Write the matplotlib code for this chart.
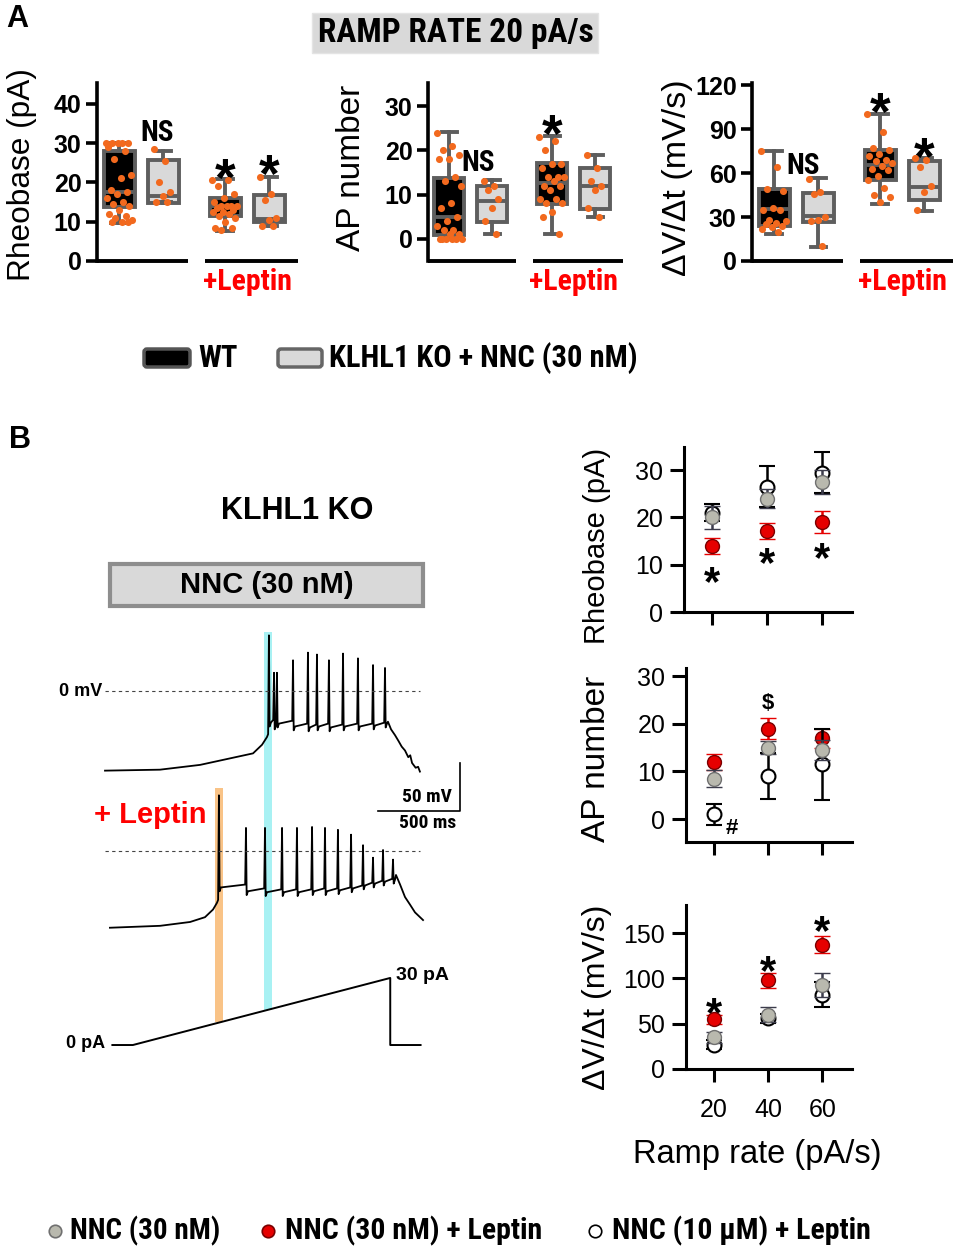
import matplotlib
matplotlib.use("Agg")
import matplotlib.pyplot as plt
import numpy as np
from matplotlib import font_manager
from matplotlib.font_manager import FontProperties
from matplotlib.patches import FancyBboxPatch, Rectangle
from matplotlib.transforms import offset_copy

# ---------------------------------------------------------------- fonts
plt.rcParams["font.family"] = ["Liberation Sans", "DejaVu Sans"]


def _find_condensed_bold():
    best = None
    for f in font_manager.fontManager.ttflist:
        name = f.name
        st = str(f.stretch)
        is_cond = ("Narrow" in name or "Condensed" in name
                   or st in ("condensed", "semi-condensed", "extra-condensed", "ultra-condensed"))
        w = f.weight if isinstance(f.weight, int) else (700 if "bold" in str(f.weight) else 400)
        if not is_cond or w < 600 or "Italic" in f.fname or f.style != "normal":
            continue
        rank = 0 if "Liberation Sans Narrow" in name else (1 if "Roboto" in name else 2)
        if best is None or rank < best[0]:
            best = (rank, f.fname)
    return best[1] if best else None


_COND = _find_condensed_bold()
_SCALE = 1.0 if _COND else 0.83


def nfont(size):
    """Condensed bold face (Arial-Narrow look) when available, else scaled Liberation bold."""
    if _COND:
        return FontProperties(fname=_COND, size=size)
    return FontProperties(family="Liberation Sans", weight="bold", size=size * _SCALE)


# ---------------------------------------------------------------- panel A data (box stats + points)
rheo_q1 = [13.8, 14.8, 11.4, 9.8]
rheo_med = [17.6, 16.5, 14.0, 10.6]
rheo_q3 = [28.1, 25.6, 16.1, 16.7]
rheo_lo = [9.7, 15.0, 7.6, 9.0]
rheo_hi = [30.0, 28.1, 20.8, 21.4]
rheo_pts = [
    [30, 30, 30, 30, 30, 29, 28, 26, 22, 21, 18, 17.5, 17, 16, 15, 14.5, 14, 13, 12, 11.5, 11, 10.5, 10, 10, 10],
    [28.5, 25.5, 20, 17.5, 16.5, 15, 15],
    [20.5, 20.5, 19, 17, 16, 15, 14, 14, 14, 14, 13.5, 13, 12.5, 12.5, 12, 11.5, 11, 10, 8.5, 8.5, 8],
    [21.5, 17, 15.5, 11, 10.5, 9, 9],
]

ap_q1 = [0.8, 3.8, 7.9, 6.7]
ap_med = [5.0, 8.5, 12.6, 12.0]
ap_q3 = [13.8, 12.0, 17.2, 15.9]
ap_lo = [0.0, 1.0, 1.0, 5.0]
ap_hi = [24.2, 13.2, 23.2, 19.0]
ap_pts = [
    [24, 21, 20, 19, 18, 18, 14, 13, 12, 8, 7, 5, 4, 3, 2, 2, 1, 1, 0, 0, 0, 0, 0, 0],
    [13, 12, 11, 9, 7, 4, 1],
    [23, 22, 20, 17, 17, 16, 14, 14, 14, 13, 12, 12, 11, 9, 9, 8, 8, 6, 5, 1],
    [19, 16, 13, 12, 11, 7, 5],
]

dv_q1 = [24.0, 26.6, 55.3, 41.8]
dv_med = [35.7, 30.7, 65.7, 50.3]
dv_q3 = [49.0, 46.5, 75.6, 68.4]
dv_lo = [18.7, 9.7, 39.0, 34.0]
dv_hi = [75.0, 56.7, 100.0, 70.0]
dv_pts = [
    [75, 64, 49, 48, 36, 35, 35, 28, 27, 26, 25, 24, 23, 22, 20],
    [56, 47, 46, 30, 28, 27, 10],
    [100, 88, 77, 76, 73, 72, 69, 68, 67, 65, 63, 62, 58, 55, 50, 45, 44, 40],
    [70, 69, 64, 51, 47, 35],
]

# ---------------------------------------------------------------- panel B traces (ms, mV / pA)
tr1_base_t = [0, 335, 580, 903, 958, 988]
tr1_base_v = [-83, -82, -77, -65, -56, -48]
tr1_spk_t = [1000, 1031, 1049, 1147, 1238, 1293, 1366, 1452, 1543, 1635, 1708]
tr1_spk_v = [58, 19, 19, 32, 40, 38, 32, 39, 34, 27, 24]
tr1_trough_v = [-33, -36, -34, -37, -38, -37, -38, -37, -37, -36, -34]
tr1_tail_t = [1726, 1745, 1769, 1790, 1810, 1830, 1850, 1862, 1873, 1895, 1910, 1921]
tr1_tail_v = [-32, -40, -46, -52, -58, -62, -69, -67, -75, -80, -79, -84]

tr2_base_t = [30, 336, 519, 610, 659, 683]
tr2_base_v = [-80, -78, -74, -69, -61, -54]
tr2_spk_t = [695, 860, 976, 1080, 1171, 1263, 1342, 1421, 1501, 1574, 1635, 1696, 1757]
tr2_spk_v = [58, 24, 24, 24, 24, 25, 24, 22, 17, 6, -7, 1, -9]
tr2_trough_v = [-38, -42, -43, -43, -43, -42, -42, -41, -39, -36, -34, -32, -30]
tr2_tail_t = [1775, 1800, 1830, 1861, 1891, 1940]
tr2_tail_v = [-25, -35, -48, -56, -64, -72]

ramp_t = [45, 170, 1740, 1740, 1925]
ramp_i = [0, 0, 30, 0, 0]

# ---------------------------------------------------------------- panel B summary (mean, sem)
ramp_rates = [20, 40, 60]
rheo_nnc = [20, 24, 27.5]
rheo_nnc_sem = [2.5, 2.0, 2.5]
rheo_lep = [14, 17.2, 19]
rheo_lep_sem = [1.7, 1.7, 2.3]
rheo_nnc10 = [21, 26.5, 29.5]
rheo_nnc10_sem = [1.8, 4.3, 4.3]

ap_nnc = [8.5, 15, 14.5]
ap_nnc_sem = [1.8, 1.3, 2.2]
ap_lep = [12, 19, 17]
ap_lep_sem = [1.7, 2.2, 2.0]
ap_nnc10 = [1, 9, 11.5]
ap_nnc10_sem = [2.2, 4.8, 7.5]

dvdt_nnc = [35, 60, 93]
dvdt_nnc_sem = [6, 8.5, 13]
dvdt_lep = [55, 98, 137]
dvdt_lep_sem = [5, 8.5, 9.5]
dvdt_nnc10 = [27, 56, 82]
dvdt_nnc10_sem = [4.5, 5, 14]

# ---------------------------------------------------------------- layout helpers
W, H = 956, 1252
fig = plt.figure(figsize=(W / 100, H / 100), dpi=100)


def px_axes(x0, y0, x1, y1):
    return fig.add_axes([x0 / W, 1 - y1 / H, (x1 - x0) / W, (y1 - y0) / H])


def star(ax, x, y, size, color="black"):
    tr = offset_copy(ax.transData, fig=fig, y=-0.56 * size, units="points")
    ax.text(x, y, "*", ha="center", va="baseline", fontsize=size, color=color,
            fontweight="bold", transform=tr, clip_on=False)


BOX_POS = [1.0, 2.0, 3.4, 4.4]
ORANGE = "#f2691e"
EDGE = "#5e5e5e"


def box_panel(rect, q1, med, q3, lo, hi, pts, ylim, yticks):
    ax = px_axes(*rect)
    stats = [dict(q1=a, med=m, q3=b, whislo=l, whishi=h)
             for a, m, b, l, h in zip(q1, med, q3, lo, hi)]
    bp = ax.bxp(stats, positions=BOX_POS, widths=0.7, capwidths=0.35,
                patch_artist=True, showfliers=False, manage_ticks=False)
    for i, patch in enumerate(bp["boxes"]):
        patch.set_facecolor("black" if i % 2 == 0 else "#d9d9d9")
        patch.set_edgecolor(EDGE)
        patch.set_linewidth(2.8)
    for part in ("whiskers", "caps", "medians"):
        for ln in bp[part]:
            ln.set_color(EDGE)
            ln.set_linewidth(2.8)
    for p, vals in zip(BOX_POS, pts):
        n = len(vals)
        offs = (((np.arange(n) * 0.618034) % 1.0) - 0.5) * (0.6 if n > 10 else 0.4)
        ax.scatter(p + offs, vals, s=26, color=ORANGE, zorder=4, linewidths=0)
    ax.set_xlim(0.5, 5.05)
    ax.set_ylim(*ylim)
    ax.set_yticks(yticks)
    for s in ("top", "right", "bottom"):
        ax.spines[s].set_visible(False)
    ax.spines["left"].set_linewidth(2.6)
    ax.tick_params(axis="y", length=8, width=2.6, pad=3, labelsize=18)
    ax.tick_params(axis="x", bottom=False, labelbottom=False)
    for lab in ax.get_yticklabels():
        lab.set_fontweight("bold")
    yb = ylim[0]
    ax.plot([BOX_POS[0] - 0.5, BOX_POS[1] + 0.55], [yb, yb], color="black", lw=2.8,
            clip_on=False, solid_capstyle="butt")
    ax.plot([BOX_POS[2] - 0.45, BOX_POS[3] + 0.65], [yb, yb], color="black", lw=2.8,
            clip_on=False, solid_capstyle="butt")
    ax.text((BOX_POS[2] + BOX_POS[3]) / 2, -0.118, "+Leptin", color="#ff0000",
            fontproperties=nfont(21.5), ha="center", va="center",
            transform=ax.get_xaxis_transform())
    return ax


# ---------------------------------------------------------------- panel A
a1 = box_panel((97, 83, 298, 261), rheo_q1, rheo_med, rheo_q3, rheo_lo, rheo_hi, rheo_pts,
               (0, 45.3), [0, 10, 20, 30, 40])
a1.text(1.85, 32.6, "NS", fontproperties=nfont(21), ha="center", va="center")
star(a1, BOX_POS[2], 24.2, 38)
star(a1, BOX_POS[3], 25.2, 38)

a2 = box_panel((428, 83, 623, 261), ap_q1, ap_med, ap_q3, ap_lo, ap_hi, ap_pts,
               (-5, 35.2), [0, 10, 20, 30])
a2.text(1.66, 17.2, "NS", fontproperties=nfont(21), ha="center", va="center")
star(a2, BOX_POS[2], 26.2, 38)

a3 = box_panel((752, 83, 953, 261), dv_q1, dv_med, dv_q3, dv_lo, dv_hi, dv_pts,
               (0, 121.5), [0, 30, 60, 90, 120])
a3.text(1.66, 64.8, "NS", fontproperties=nfont(21), ha="center", va="center")
star(a3, BOX_POS[2], 109.7, 38)
star(a3, BOX_POS[3], 79.0, 38)


# ---------------------------------------------------------------- panel B traces
def build_trace(base_t, base_v, spk_t, spk_v, trough_v, tail_t, tail_v):
    t, v = list(base_t), list(base_v)
    pre = base_v[-1]
    for ts, vp, vt in zip(spk_t, spk_v, trough_v):
        t += [ts - 5, ts, ts + 4, ts + 12]
        v += [pre + 3, vp, vt - 4, vt]
        pre = vt
    return np.array(t + list(tail_t)), np.array(v + list(tail_v))


TXLIM = (-396.5, 2226.5)
bg = px_axes(40, 620, 470, 1060)
bg.set_xlim(*TXLIM)
bg.set_axis_off()
bg.axvspan(tr2_spk_t[0] - 24, tr2_spk_t[0] + 24, ymin=0.086, ymax=0.618, color="#f9c387", lw=0)
bg.axvspan(tr1_spk_t[0] - 30, tr1_spk_t[0] + 18, ymin=0.114, ymax=0.973, color="#a8f1f3", lw=0)

DASH_X = ((0 - TXLIM[0]) / (TXLIM[1] - TXLIM[0]), (1921 - TXLIM[0]) / (TXLIM[1] - TXLIM[0]))

t1, v1 = build_trace(tr1_base_t, tr1_base_v, tr1_spk_t, tr1_spk_v, tr1_trough_v, tr1_tail_t, tr1_tail_v)
ax_t1 = px_axes(40, 620, 470, 800)
ax_t1.plot(t1, v1, color="black", lw=1.3)
ax_t1.axhline(0, xmin=DASH_X[0], xmax=DASH_X[1], color="#444444", lw=0.8, ls=(0, (3, 3)))
ax_t1.set_xlim(*TXLIM)
ax_t1.set_ylim(-113.6, 74)
ax_t1.set_axis_off()

t2, v2 = build_trace(tr2_base_t, tr2_base_v, tr2_spk_t, tr2_spk_v, tr2_trough_v, tr2_tail_t, tr2_tail_v)
ax_t2 = px_axes(40, 760, 470, 950)
ax_t2.plot(t2, v2, color="black", lw=1.3)
ax_t2.axhline(0, xmin=DASH_X[0], xmax=DASH_X[1], color="#444444", lw=0.8, ls=(0, (3, 3)))
# scale bar 500 ms / 50 mV
ax_t2.plot([1665, 2165, 2165], [41.7, 41.7, 91.7], color="black", lw=1.2, clip_on=False)
ax_t2.set_xlim(*TXLIM)
ax_t2.set_ylim(-103.2, 94.8)
ax_t2.set_axis_off()

ax_r = px_axes(40, 950, 470, 1060)
ax_r.plot(ramp_t, ramp_i, color="black", lw=1.4)
ax_r.set_xlim(*TXLIM)
ax_r.set_ylim(-6.7, 42.5)
ax_r.set_axis_off()

# ---------------------------------------------------------------- panel B summary plots
RED, GREY = "#e60000", "#b9b9ae"


def summary(rect, ylim, yticks, nnc, nnc_s, lep, lep_s, n10, n10_s, show_x):
    ax = px_axes(*rect)
    ax.errorbar(ramp_rates, lep, yerr=lep_s, fmt="o", ms=10, mfc=RED, mec="#7a0000",
                mew=1.0, ecolor=RED, elinewidth=1.8, capsize=6, capthick=1.8, zorder=3)
    ax.errorbar(ramp_rates, n10, yerr=n10_s, fmt="o", ms=10, mfc="white", mec="black",
                mew=1.5, ecolor="black", elinewidth=1.8, capsize=6, capthick=1.8, zorder=4)
    ax.errorbar(ramp_rates, nnc, yerr=nnc_s, fmt="o", ms=10, mfc=GREY, mec="#707070",
                mew=1.0, ecolor="#3c3c4c", elinewidth=1.8, capsize=6, capthick=1.8, zorder=5)
    ax.set_xlim(9.8, 70.9)
    ax.set_ylim(*ylim)
    ax.set_xticks(ramp_rates)
    ax.set_yticks(yticks)
    for s in ("top", "right"):
        ax.spines[s].set_visible(False)
    for s in ("left", "bottom"):
        ax.spines[s].set_linewidth(2.2)
    ax.tick_params(axis="y", length=10, width=2.2, pad=5, labelsize=18)
    ax.tick_params(axis="x", length=9, width=2.2, pad=12, labelsize=18, labelbottom=show_x)
    return ax


b1 = summary((684, 447, 852, 612), (0, 34.9), [0, 10, 20, 30],
             rheo_nnc, rheo_nnc_sem, rheo_lep, rheo_lep_sem, rheo_nnc10, rheo_nnc10_sem, False)
for x, y in zip(ramp_rates, [8.5, 12.5, 13.5]):
    star(b1, x, y, 30)

b2 = summary((686, 668, 852, 842), (-4.8, 31.7), [0, 10, 20, 30],
             ap_nnc, ap_nnc_sem, ap_lep, ap_lep_sem, ap_nnc10, ap_nnc10_sem, False)
b2.text(40, 24.3, "$", fontsize=16, fontweight="bold", ha="center", va="center")
b2.text(26.5, -2.0, "#", fontsize=16, fontweight="bold", ha="center", va="center")

b3 = summary((686, 905, 852, 1069), (0, 181), [0, 50, 100, 150],
             dvdt_nnc, dvdt_nnc_sem, dvdt_lep, dvdt_lep_sem, dvdt_nnc10, dvdt_nnc10_sem, True)
for x, y in zip(ramp_rates, [73, 120, 164]):
    star(b3, x, y, 30)

# ---------------------------------------------------------------- overlay texts & keys (pixel space)
ov = fig.add_axes([0, 0, 1, 1])
ov.set_xlim(0, W)
ov.set_ylim(H, 0)
ov.set_axis_off()

ov.text(17, 19, "A", fontsize=22, fontweight="bold", ha="center", va="center")
ov.text(20, 440, "B", fontsize=22, fontweight="bold", ha="center", va="center")

ov.add_patch(Rectangle((312, 13), 286, 40, facecolor="#d9d9d9", edgecolor="#e4e4e4", lw=1))
ov.text(456, 33, "RAMP RATE 20 pA/s", fontproperties=nfont(24), ha="center", va="center")

# panel A y labels
ov.text(22, 175, "Rheobase (pA)", fontsize=22.8, rotation=90, ha="center", va="center")
ov.text(352, 168, "AP number", fontsize=24, rotation=90, ha="center", va="center")
ov.text(678, 178, "ΔV/Δt (mV/s)", fontsize=24.5, rotation=90, ha="center", va="center")

# panel A key
ov.add_patch(FancyBboxPatch((144, 349), 46, 18, boxstyle="round,pad=0,rounding_size=3",
                            facecolor="black", edgecolor="#555555", lw=2.5))
ov.text(198, 358, "WT", fontproperties=nfont(22), ha="left", va="center")
ov.add_patch(FancyBboxPatch((278, 349), 44, 18, boxstyle="round,pad=0,rounding_size=3",
                            facecolor="#d9d9d9", edgecolor="#666666", lw=2.5))
ov.text(329, 358, "KLHL1 KO + NNC (30 nM)", fontproperties=nfont(22), ha="left", va="center")

# panel B left
ov.text(297, 511, "KLHL1 KO", fontsize=22, fontweight="bold", ha="center", va="center")
ov.add_patch(Rectangle((110, 564), 313, 42, facecolor="#d9d9d9", edgecolor="#8e8e8e", lw=3))
ov.text(267, 585, "NNC (30 nM)", fontsize=21, fontweight="bold", ha="center", va="center")
ov.text(102, 691, "0 mV", fontsize=13, fontweight="bold", ha="right", va="center")
ov.text(150, 815, "+ Leptin", fontsize=21, fontweight="bold", color="#ff0000", ha="center", va="center")
ov.text(452, 797, "50 mV", fontproperties=nfont(14), ha="right", va="center")
ov.text(456, 823, "500 ms", fontproperties=nfont(14), ha="right", va="center")
ov.text(396, 975, "30 pA", fontsize=14, fontweight="bold", ha="left", va="center")
ov.text(105, 1044, "0 pA", fontsize=13, fontweight="bold", ha="right", va="center")

# panel B right labels
ov.text(597, 546, "Rheobase (pA)", fontsize=21, rotation=90, ha="center", va="center")
ov.text(597, 759, "AP number", fontsize=24, rotation=90, ha="center", va="center")
ov.text(597, 997, "ΔV/Δt (mV/s)", fontsize=23, rotation=90, ha="center", va="center")
ov.text(757, 1155, "Ramp rate (pA/s)", fontsize=23.5, ha="center", va="center")

# bottom key
for x, fc, ec in [(55, GREY, "#707070"), (268, RED, "#7a0000"), (595, "white", "black")]:
    ov.plot([x], [1231], "o", ms=9, mfc=fc, mec=ec, mew=1.2)
ov.text(70, 1231, "NNC (30 nM)", fontproperties=nfont(21), ha="left", va="center")
ov.text(285, 1231, "NNC (30 nM) + Leptin", fontproperties=nfont(21.5), ha="left", va="center")
ov.text(612, 1231, "NNC (10 μM) + Leptin", fontproperties=nfont(21.5), ha="left", va="center")

fig.savefig("out.png", dpi=100)
